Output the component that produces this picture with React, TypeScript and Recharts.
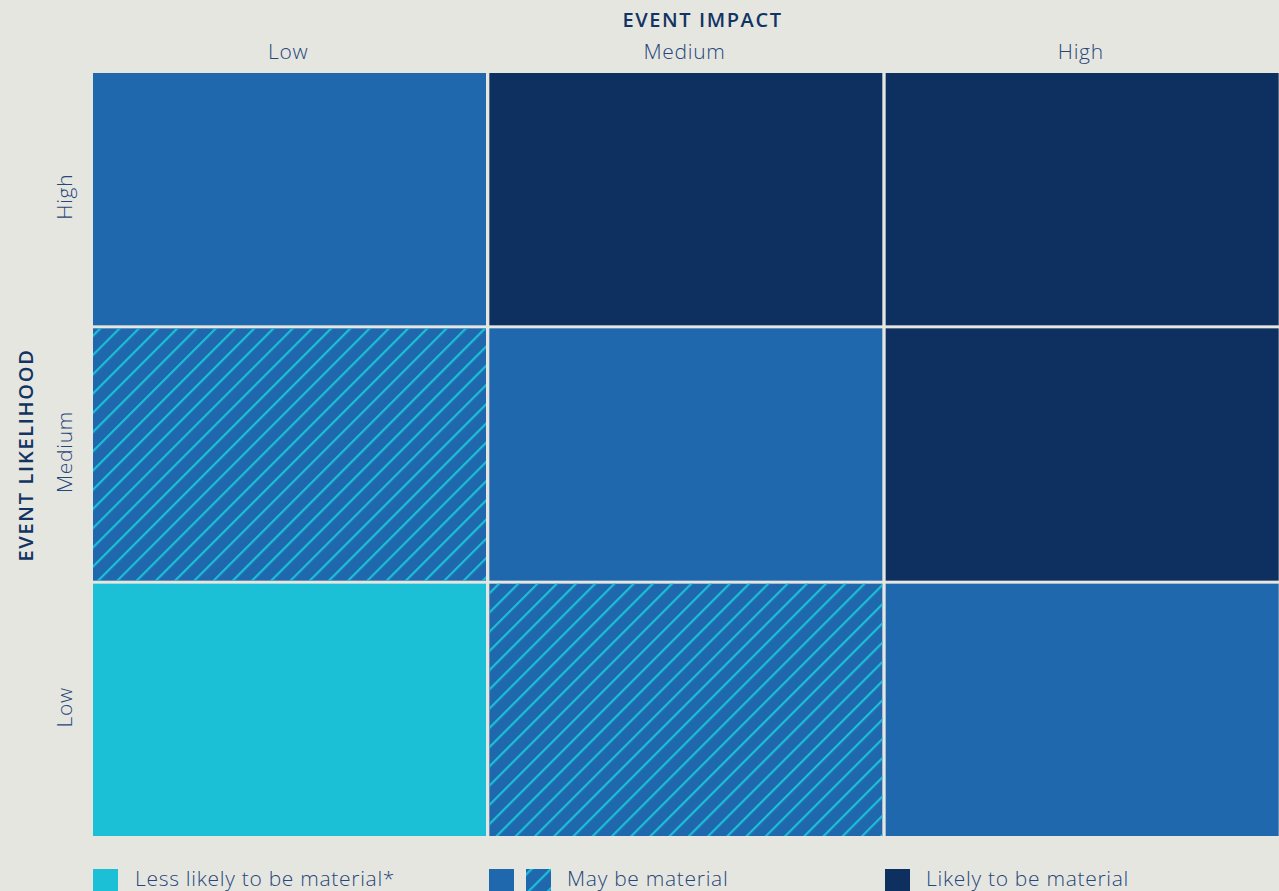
import { Bar, BarChart, XAxis, YAxis } from "recharts";

// Event impact runs along the top, likelihood up the side.
const impactLevels = ["Low", "Medium", "High"];
const likelihoodLevels = ["Low", "Medium", "High"];

// Materiality class of each cell, one list per likelihood row, ordered by impact.
const lowLikelihoodRow = ["less", "mayHatched", "may"];
const mediumLikelihoodRow = ["mayHatched", "may", "likely"];
const highLikelihoodRow = ["may", "likely", "likely"];

const legendLabels = ["Less likely to be material*", "May be material", "Likely to be material"];

const BG = "#e6e6e1";
const CYAN = "#1bbfd6";
const BLUE = "#1f68ae";
const NAVY = "#0e3060";
const TITLE = "#123463";
const TICK = "#27477a";
const FONT = "'Open Sans', sans-serif";

const FILLS: Record<string, string> = { less: CYAN, may: BLUE, mayHatched: BLUE, likely: NAVY };

// every cell is one unit tall, stacked low -> high likelihood
const data = impactLevels.map((impact) => ({ impact, low: 1, medium: 1, high: 1 }));

function MatrixCell(props: any) {
  const { x, y, width, height, kind } = props;
  const w = width - 3;
  const h = height - 3;
  return (
    <g>
      <rect x={x + 1} y={y + 1} width={w} height={h} fill={FILLS[kind]} />
      {kind === "mayHatched" && <rect x={x + 1} y={y + 1} width={w} height={h} fill="url(#hatch)" />}
    </g>
  );
}

function TopTick(props: any) {
  const { x, payload } = props;
  return (
    <text
      x={x - 2}
      y={59}
      textAnchor="middle"
      fill={TICK}
      fontSize={21}
      fontFamily={FONT}
      fontWeight={300}
      letterSpacing={0.7}
    >
      {payload.value}
    </text>
  );
}

function SideTick(props: any) {
  const { y, payload } = props;
  const label = likelihoodLevels[Math.floor(payload.value)];
  const cy = y - 3;
  return (
    <text
      x={72}
      y={cy}
      transform={`rotate(-90, 72, ${cy})`}
      textAnchor="middle"
      fill={TICK}
      fontSize={21}
      fontFamily={FONT}
      fontWeight={300}
      letterSpacing={0.7}
    >
      {label}
    </text>
  );
}

function SideTitle(props: any) {
  const { viewBox } = props;
  const cy = viewBox.y + viewBox.height / 2;
  return (
    <text
      x={33}
      y={cy}
      transform={`rotate(-90, 33, ${cy})`}
      textAnchor="middle"
      fill={TITLE}
      fontSize={20}
      fontFamily={FONT}
      fontWeight={600}
      letterSpacing={1.7}
    >
      EVENT LIKELIHOOD
    </text>
  );
}

function TopTitle(props: any) {
  const { viewBox } = props;
  return (
    <text
      x={viewBox.x + viewBox.width / 2 + 16}
      y={27}
      textAnchor="middle"
      fill={TITLE}
      fontSize={20}
      fontFamily={FONT}
      fontWeight={600}
      letterSpacing={1.6}
    >
      EVENT IMPACT
    </text>
  );
}

function Swatch({ color, hatched }: { color: string; hatched?: boolean }) {
  return (
    <svg width={25} height={25} style={{ display: "block", flex: "none" }}>
      <defs>
        <pattern id="hatch-legend" patternUnits="userSpaceOnUse" width={13.6} height={13.6} patternTransform="rotate(45)">
          <line x1={4} y1={0} x2={4} y2={13.6} stroke={CYAN} strokeWidth={2.2} />
        </pattern>
      </defs>
      <rect width={25} height={25} fill={color} />
      {hatched && <rect width={25} height={25} fill="url(#hatch-legend)" />}
    </svg>
  );
}

const legendText: React.CSSProperties = {
  fontFamily: FONT,
  fontWeight: 300,
  fontSize: 21,
  letterSpacing: 0.7,
  color: TICK,
  whiteSpace: "nowrap",
  position: "relative",
  top: -3,
};

export default function App() {
  const rows = [lowLikelihoodRow, mediumLikelihoodRow, highLikelihoodRow];
  const keys = ["low", "medium", "high"];
  return (
    <div style={{ position: "relative", width: 1279, height: 891, overflow: "hidden", background: BG }}>
      <style>{`body{margin:0;background:${BG};overflow:hidden}`}</style>
      <BarChart
        width={1279}
        height={891}
        data={data}
        margin={{ top: 0, right: -2, left: 0, bottom: 53 }}
        barCategoryGap={0}
        barGap={0}
      >
        <defs>
          <pattern id="hatch" patternUnits="userSpaceOnUse" width={13.6} height={13.6} patternTransform="rotate(45)">
            <line x1={4} y1={0} x2={4} y2={13.6} stroke={CYAN} strokeWidth={2.2} />
          </pattern>
        </defs>
        <XAxis
          dataKey="impact"
          orientation="top"
          axisLine={false}
          tickLine={false}
          tick={<TopTick />}
          height={72}
          label={<TopTitle />}
        />
        <YAxis
          type="number"
          domain={[0, 3]}
          ticks={[0.5, 1.5, 2.5]}
          axisLine={false}
          tickLine={false}
          tick={<SideTick />}
          width={92}
          label={<SideTitle />}
        />
        {keys.map((key, r) => (
          <Bar
            key={key}
            dataKey={key}
            stackId="matrix"
            isAnimationActive={false}
            shape={(p: any) => <MatrixCell {...p} kind={rows[r][p.index]} />}
          />
        ))}
      </BarChart>
      <div style={{ position: "absolute", top: 867, left: 93, display: "flex", alignItems: "center" }}>
        <Swatch color={CYAN} />
        <span style={{ ...legendText, marginLeft: 17 }}>{legendLabels[0]}</span>
      </div>
      <div style={{ position: "absolute", top: 867, left: 489, display: "flex", alignItems: "center" }}>
        <Swatch color={BLUE} />
        <div style={{ width: 12 }} />
        <Swatch color={BLUE} hatched />
        <span style={{ ...legendText, marginLeft: 16 }}>{legendLabels[1]}</span>
      </div>
      <div style={{ position: "absolute", top: 867, left: 885, display: "flex", alignItems: "center" }}>
        <Swatch color={NAVY} />
        <span style={{ ...legendText, marginLeft: 16 }}>{legendLabels[2]}</span>
      </div>
    </div>
  );
}
